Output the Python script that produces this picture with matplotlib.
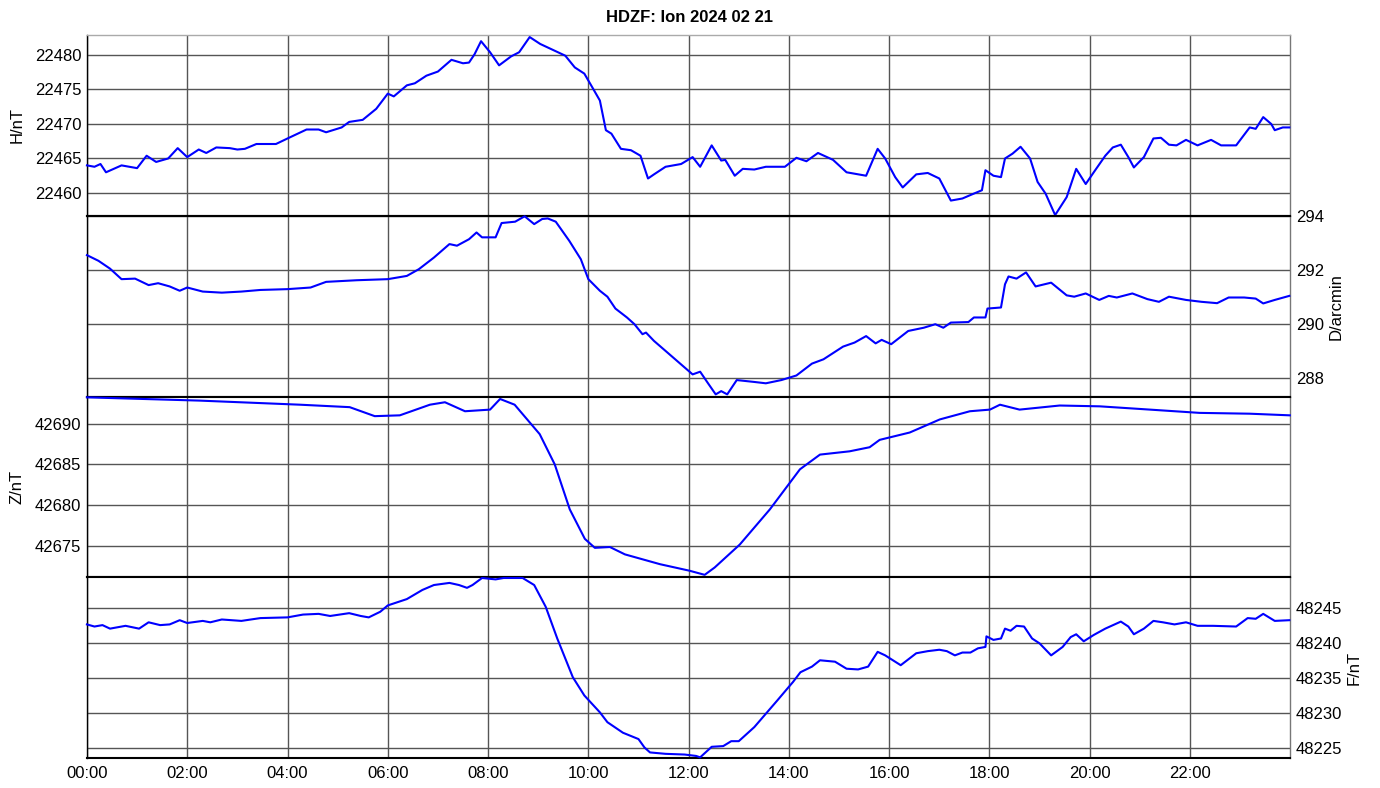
import numpy as np
import matplotlib
matplotlib.use("Agg")
import matplotlib.pyplot as plt

plt.rcParams["font.family"] = ["Liberation Sans", "DejaVu Sans"]

# Ion observatory, 2024-02-21, hours of day vs. field components
h_time = [0.0, 0.15, 0.27, 0.38, 0.69, 1.0, 1.19, 1.38, 1.62, 1.81, 2.0, 2.23, 2.38,
          2.58, 2.85, 3.0, 3.15, 3.38, 3.77, 4.0, 4.38, 4.62, 4.77, 5.08, 5.23, 5.5,
          5.77, 6.0, 6.12, 6.38, 6.54, 6.77, 7.0, 7.27, 7.5, 7.62, 7.73, 7.86, 8.04,
          8.22, 8.46, 8.62, 8.83, 9.04, 9.54, 9.73, 9.92, 10.08, 10.23, 10.35, 10.46,
          10.65, 10.85, 11.04, 11.19, 11.31, 11.54, 11.85, 12.08, 12.23, 12.46, 12.65,
          12.73, 12.92, 13.08, 13.31, 13.54, 13.77, 13.92, 14.15, 14.35, 14.58, 14.88,
          15.15, 15.54, 15.77, 15.92, 16.12, 16.27, 16.54, 16.77, 17.0, 17.23, 17.46,
          17.62, 17.85, 17.92, 18.08, 18.23, 18.31, 18.46, 18.62, 18.81, 18.96, 19.12,
          19.31, 19.54, 19.73, 19.92, 20.08, 20.31, 20.46, 20.62, 20.77, 20.88, 21.08,
          21.27, 21.42, 21.58, 21.73, 21.92, 22.15, 22.42, 22.62, 22.92, 23.19, 23.31,
          23.46, 23.62, 23.69, 23.85, 23.98]
h_vals = [22464.0, 22463.8, 22464.2, 22463.0, 22464.0, 22463.6, 22465.4, 22464.5,
          22465.0, 22466.5, 22465.2, 22466.3, 22465.8, 22466.6, 22466.5, 22466.3,
          22466.4, 22467.1, 22467.1, 22467.9, 22469.2, 22469.2, 22468.8, 22469.5,
          22470.3, 22470.6, 22472.2, 22474.4, 22474.0, 22475.6, 22475.9, 22477.0,
          22477.6, 22479.3, 22478.8, 22478.9, 22480.1, 22482.0, 22480.4, 22478.5,
          22479.8, 22480.4, 22482.6, 22481.6, 22479.9, 22478.2, 22477.3, 22475.3,
          22473.4, 22469.1, 22468.6, 22466.4, 22466.2, 22465.4, 22462.1, 22462.7,
          22463.8, 22464.2, 22465.2, 22463.8, 22466.9, 22464.7, 22464.8, 22462.5,
          22463.5, 22463.4, 22463.8, 22463.8, 22463.8, 22465.1, 22464.6, 22465.8,
          22464.8, 22463.0, 22462.5, 22466.4, 22465.0, 22462.3, 22460.8, 22462.7,
          22462.9, 22462.1, 22458.9, 22459.2, 22459.7, 22460.4, 22463.3, 22462.5,
          22462.3, 22465.0, 22465.7, 22466.7, 22465.0, 22461.6, 22459.9, 22456.8,
          22459.4, 22463.5, 22461.3, 22463.0, 22465.4, 22466.6, 22467.0, 22465.2,
          22463.7, 22465.2, 22467.9, 22468.0, 22467.0, 22466.9, 22467.7, 22466.9,
          22467.7, 22466.9, 22466.9, 22469.5, 22469.3, 22471.0, 22470.0, 22469.1,
          22469.5, 22469.5]

d_time = [0.0, 0.23, 0.46, 0.69, 0.96, 1.23, 1.42, 1.65, 1.85, 2.0, 2.31, 2.69, 3.08,
          3.46, 4.0, 4.46, 4.77, 5.38, 6.0, 6.38, 6.62, 6.92, 7.23, 7.38, 7.62, 7.77,
          7.88, 8.15, 8.27, 8.54, 8.73, 8.92, 9.08, 9.19, 9.35, 9.62, 9.85, 10.0,
          10.23, 10.38, 10.54, 10.77, 10.92, 11.08, 11.15, 11.31, 11.54, 11.85, 12.08,
          12.23, 12.38, 12.54, 12.65, 12.77, 12.96, 13.31, 13.54, 13.85, 14.15, 14.46,
          14.69, 15.08, 15.31, 15.54, 15.73, 15.85, 16.04, 16.38, 16.69, 16.92, 17.08,
          17.23, 17.58, 17.69, 17.92, 17.96, 18.23, 18.31, 18.38, 18.54, 18.73, 18.92,
          19.23, 19.54, 19.69, 19.92, 20.19, 20.38, 20.54, 20.85, 21.15, 21.38, 21.58,
          21.92, 22.23, 22.54, 22.77, 23.08, 23.31, 23.46, 23.69, 23.98]
d_vals = [292.54, 292.33, 292.04, 291.65, 291.67, 291.43, 291.50, 291.38, 291.22,
          291.34, 291.19, 291.15, 291.19, 291.25, 291.28, 291.34, 291.55, 291.61,
          291.65, 291.77, 292.02, 292.45, 292.95, 292.89, 293.13, 293.38, 293.20,
          293.20, 293.73, 293.78, 293.98, 293.69, 293.88, 293.90, 293.78, 293.07,
          292.39, 291.65, 291.22, 291.00, 290.56, 290.23, 289.98, 289.61, 289.67,
          289.36, 288.99, 288.49, 288.12, 288.22, 287.81, 287.38, 287.50, 287.38,
          287.91, 287.84, 287.79, 287.91, 288.08, 288.52, 288.68, 289.15, 289.30,
          289.54, 289.27, 289.40, 289.24, 289.73, 289.85, 289.98, 289.85, 290.04,
          290.06, 290.23, 290.23, 290.56, 290.60, 291.46, 291.75, 291.67, 291.90,
          291.38, 291.52, 291.05, 291.00, 291.12, 290.88, 291.03, 290.97, 291.12,
          290.91, 290.81, 291.00, 290.88, 290.81, 290.76, 290.97, 290.97, 290.93,
          290.75, 290.88, 291.03]

z_time = [0.0, 2.25, 4.25, 5.24, 5.74, 6.24, 6.84, 7.14, 7.54, 8.04, 8.24, 8.53, 9.03,
          9.33, 9.63, 9.93, 10.13, 10.43, 10.73, 11.43, 12.02, 12.32, 12.52, 13.02,
          13.62, 14.22, 14.62, 15.21, 15.61, 15.81, 16.41, 17.01, 17.61, 18.01, 18.21,
          18.6, 19.4, 20.2, 21.2, 22.19, 23.19, 23.99]
z_vals = [42693.2, 42692.8, 42692.3, 42692.0, 42690.9, 42691.0, 42692.3, 42692.6,
          42691.5, 42691.7, 42693.0, 42692.3, 42688.7, 42685.0, 42679.5, 42675.9,
          42674.8, 42674.9, 42674.0, 42672.8, 42672.0, 42671.5, 42672.4, 42675.2,
          42679.5, 42684.4, 42686.2, 42686.6, 42687.1, 42688.0, 42688.9, 42690.5,
          42691.5, 42691.7, 42692.3, 42691.7, 42692.2, 42692.1, 42691.7, 42691.3,
          42691.2, 42691.0]

f_time = [0.0, 0.15, 0.31, 0.46, 0.77, 1.04, 1.23, 1.46, 1.65, 1.85, 2.0, 2.31, 2.46,
          2.69, 3.08, 3.46, 4.0, 4.31, 4.62, 4.85, 5.23, 5.46, 5.62, 5.85, 6.0, 6.38,
          6.69, 6.92, 7.23, 7.42, 7.58, 7.69, 7.88, 8.15, 8.31, 8.69, 8.92, 9.15, 9.38,
          9.69, 9.92, 10.23, 10.38, 10.69, 11.0, 11.12, 11.23, 11.54, 11.92, 12.15,
          12.23, 12.46, 12.69, 12.85, 13.0, 13.31, 13.54, 13.77, 13.96, 14.08, 14.23,
          14.46, 14.62, 14.92, 15.15, 15.38, 15.58, 15.77, 15.92, 16.23, 16.54, 16.77,
          17.0, 17.15, 17.31, 17.46, 17.62, 17.77, 17.92, 17.94, 18.08, 18.23, 18.31,
          18.42, 18.54, 18.69, 18.85, 19.0, 19.23, 19.46, 19.62, 19.73, 19.88, 20.08,
          20.31, 20.62, 20.77, 20.88, 21.08, 21.27, 21.46, 21.69, 21.92, 22.15, 22.46,
          22.92, 23.15, 23.31, 23.46, 23.69, 23.98]
f_vals = [48242.6, 48242.3, 48242.5, 48242.0, 48242.4, 48242.0, 48242.9, 48242.5,
          48242.6, 48243.2, 48242.8, 48243.1, 48242.9, 48243.3, 48243.1, 48243.5,
          48243.6, 48244.0, 48244.1, 48243.8, 48244.2, 48243.8, 48243.6, 48244.4,
          48245.3, 48246.2, 48247.5, 48248.2, 48248.5, 48248.2, 48247.8, 48248.2,
          48249.2, 48249.0, 48249.2, 48249.2, 48248.2, 48245.1, 48240.6, 48235.1,
          48232.5, 48230.1, 48228.7, 48227.2, 48226.3, 48225.1, 48224.4, 48224.2,
          48224.1, 48223.9, 48223.7, 48225.2, 48225.3, 48226.0, 48226.0, 48228.0,
          48229.9, 48231.8, 48233.4, 48234.4, 48235.8, 48236.6, 48237.5, 48237.3,
          48236.3, 48236.2, 48236.6, 48238.7, 48238.2, 48236.8, 48238.5, 48238.8,
          48239.0, 48238.8, 48238.2, 48238.6, 48238.6, 48239.2, 48239.4, 48240.9,
          48240.4, 48240.6, 48242.0, 48241.7, 48242.4, 48242.3, 48240.6, 48239.9,
          48238.2, 48239.4, 48240.8, 48241.2, 48240.2, 48241.1, 48242.0, 48243.0,
          48242.3, 48241.2, 48242.0, 48243.1, 48242.9, 48242.6, 48242.9, 48242.4,
          48242.4, 48242.3, 48243.5, 48243.4, 48244.1, 48243.1, 48243.2]

x_ticks = list(range(0, 24, 2))
x_labels = ["%02d:00" % h for h in x_ticks]

panels = [
    (h_time, h_vals, "H/nT", (22456.7, 22482.9), [22460, 22465, 22470, 22475, 22480], "left", -0.0515),
    (d_time, d_vals, "D/arcmin", (287.3, 294.0), [288, 290, 292, 294], "right", 1.032),
    (z_time, z_vals, "Z/nT", (42671.2, 42693.3), [42675, 42680, 42685, 42690], "left", -0.0515),
    (f_time, f_vals, "F/nT", (48223.6, 48249.3), [48225, 48230, 48235, 48240, 48245], "right", 1.047),
]

fig, axes = plt.subplots(4, 1, figsize=(13.8, 7.88), dpi=100, sharex=True)
fig.subplots_adjust(left=0.063, right=0.935, top=0.9556, bottom=0.038, hspace=0)

for i, (ax, (t, v, label, ylim, yticks, side, lx)) in enumerate(zip(axes, panels)):
    ax.plot(t, v, color="#0000ff", lw=1.5, clip_on=False, zorder=3)
    ax.set_ylim(*ylim)
    ax.set_yticks(yticks)
    ax.set_xlim(0, 24)
    ax.set_xticks(x_ticks)
    ax.grid(True, color="#555555", lw=1.0)
    ax.tick_params(length=0, labelsize=12, pad=4)
    if side == "right":
        ax.yaxis.tick_right()
        ax.yaxis.set_label_position("right")
    ax.set_ylabel(label, fontsize=12)
    ax.yaxis.set_label_coords(lx, 0.5)
    for s in ["left", "right"]:
        ax.spines[s].set_color("#777777")
        ax.spines[s].set_linewidth(1.0)
    ax.spines["left"].set_color("black")
    ax.spines["top"].set_color("black" if i > 0 else "#aaaaaa")
    ax.spines["bottom"].set_color("black")
    ax.spines["top"].set_linewidth(1.5 if i > 0 else 1.0)
    ax.spines["bottom"].set_linewidth(1.5)

axes[-1].set_xticklabels(x_labels)
axes[-1].tick_params(axis="x", pad=6)

fig.suptitle("HDZF: Ion 2024 02 21", fontsize=12, fontweight="bold", y=0.987)

fig.savefig("out.png", dpi=100)
